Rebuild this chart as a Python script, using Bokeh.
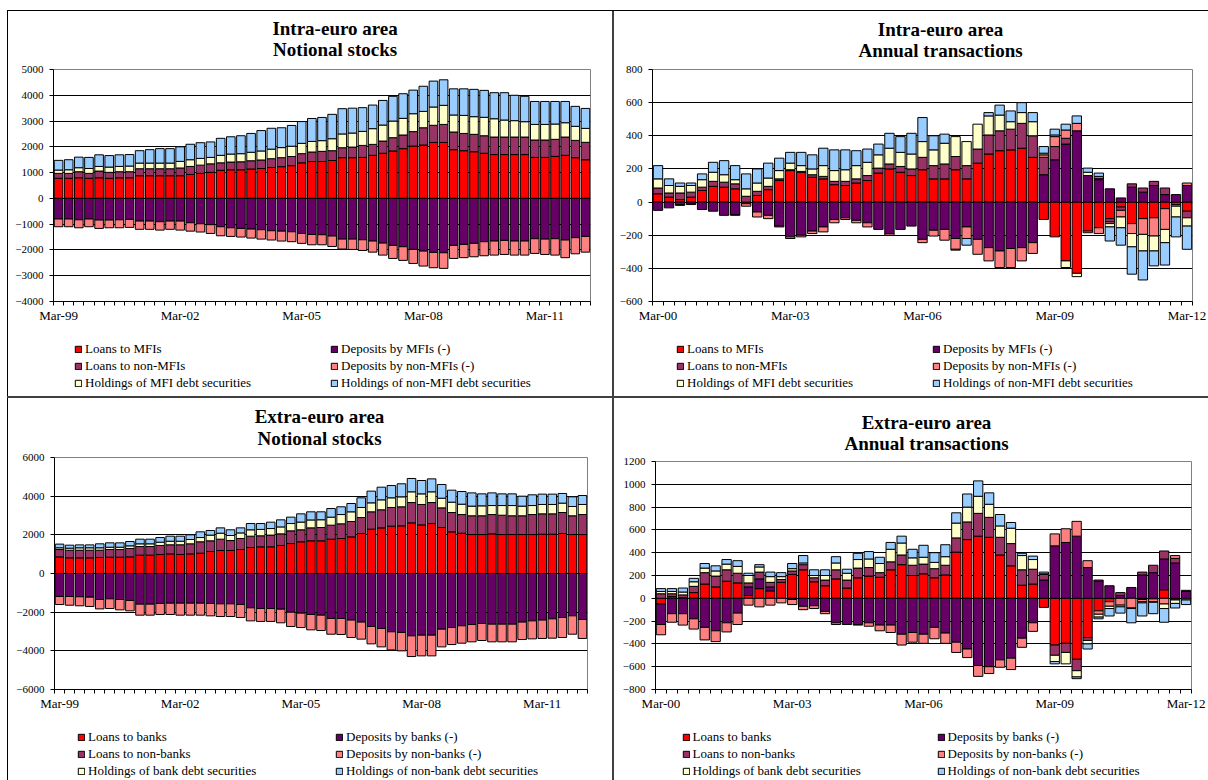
import numpy as np
from bokeh.plotting import figure
from bokeh.models import (ColumnDataSource, Range1d, FixedTicker, Legend, LegendItem, Spacer)
from bokeh.core.properties import value
from bokeh.layouts import row, column
from bokeh.embed import file_html
from bokeh.resources import INLINE

# ---------------- categories / tick labels ----------------
MONTHS = ["Mar", "Jun", "Sep", "Dec"]


def quarter_names(first_year, count):
    return [f"{MONTHS[k % 4]}-{(first_year + k // 4) % 100:02d}" for k in range(count)]


quarters_stocks = quarter_names(1999, 53)   # Mar-99 .. Mar-12
quarters_flows = quarter_names(2000, 49)    # Mar-00 .. Mar-12
ticks_stocks = ["Mar-99", "Mar-02", "Mar-05", "Mar-08", "Mar-11"]
ticks_flows = ["Mar-00", "Mar-03", "Mar-06", "Mar-09", "Mar-12"]

names_intra = ["Loans to MFIs", "Deposits by MFIs (-)", "Loans to non-MFIs",
               "Deposits by non-MFIs (-)", "Holdings of MFI debt securities",
               "Holdings of non-MFI debt securities"]
names_extra = ["Loans to banks", "Deposits by banks (-)", "Loans to non-banks",
               "Deposits by non-banks (-)", "Holdings of bank debt securities",
               "Holdings of non-bank debt securities"]

# ---------------- Intra-euro area, notional stocks ----------------
intra_stock_loans_mfi = [780, 780, 800, 780, 800, 780, 800, 800, 880, 880, 880, 880, 880, 930, 970, 1010,
                         1090, 1110, 1110, 1140, 1160, 1200, 1230, 1270, 1380, 1430, 1430, 1470, 1580, 1580,
                         1590, 1670, 1750, 1840, 1930, 2030, 2070, 2170, 2170, 1890, 1850, 1810, 1750, 1700,
                         1700, 1700, 1700, 1590, 1590, 1630, 1670, 1580, 1500]
intra_stock_dep_mfi = [-800, -800, -830, -800, -840, -840, -830, -815, -880, -880, -905, -880, -880, -945,
                       -985, -1020, -1100, -1140, -1165, -1190, -1215, -1255, -1270, -1295, -1360, -1400,
                       -1410, -1460, -1580, -1580, -1605, -1655, -1735, -1825, -1875, -1980, -2045, -2095,
                       -2110, -1825, -1785, -1745, -1680, -1655, -1630, -1655, -1655, -1565, -1580, -1565,
                       -1615, -1525, -1475]
intra_stock_loans_nonmfi = [190, 190, 235, 190, 260, 230, 235, 235, 270, 270, 270, 270, 300, 310, 320, 330,
                            290, 300, 310, 320, 330, 340, 350, 355, 355, 370, 395, 380, 385, 410, 465, 425,
                            475, 515, 530, 560, 670, 665, 700, 685, 670, 675, 680, 680, 680, 680, 680, 675,
                            675, 660, 710, 670, 675]
intra_stock_dep_nonmfi = [-300, -300, -310, -300, -325, -300, -310, -310, -320, -320, -325, -320, -350, -325,
                          -320, -340, -350, -335, -335, -350, -365, -360, -385, -385, -385, -400, -390, -405,
                          -385, -400, -415, -430, -465, -505, -530, -545, -580, -595, -605, -505, -515, -520,
                          -545, -545, -545, -545, -545, -570, -595, -635, -685, -625, -610]
intra_stock_mfi_sec = [130, 140, 155, 190, 180, 205, 205, 220, 220, 220, 220, 220, 255, 260, 260, 250, 290,
                       310, 315, 330, 350, 370, 390, 400, 400, 410, 415, 465, 535, 545, 545, 610, 620, 645,
                       645, 695, 635, 710, 740, 660, 700, 685, 715, 710, 660, 635, 595, 605, 605, 595, 555,
                       545, 540]
intra_stock_nonmfi_sec = [375, 390, 410, 430, 450, 445, 450, 445, 480, 520, 560, 560, 565, 600, 610, 600, 660,
                          670, 695, 730, 790, 810, 770, 805, 845, 890, 900, 945, 980, 965, 920, 915, 955, 960,
                          955, 915, 975, 1005, 990, 1015, 1030, 1060, 1045, 1010, 1060, 985, 985, 890, 890,
                          875, 825, 775, 775]

# ---------------- Intra-euro area, annual transactions ----------------
intra_flow_loans_mfi = [50, 30, 15, 30, 70, 95, 90, 80, -10, 40, 75, 130, 190, 180, 150, 140, 105, 100, 115,
                        130, 175, 200, 180, 160, 195, 140, 140, 195, 140, 235, 290, 310, 315, 325, 270, -105,
                        -210, -355, -430, -175, -155, -100, -30, -130, -100, -95, -40, -15, -55]
intra_flow_dep_mfi = [-50, -35, -15, -10, -45, -55, -80, -75, 0, -60, -80, -145, -210, -200, -175, -150, -105,
                      -95, -110, -125, -165, -190, -165, -145, -225, -170, -165, -220, -150, -225, -275, -295,
                      -280, -275, -245, 165, 255, 350, 430, 160, 135, 80, 25, 90, 60, 100, 45, 45, 100]
intra_flow_loans_nonmfi = [35, 25, 40, 30, 20, 30, 30, 30, 35, 25, 20, 10, 5, 5, 15, 15, 20, 25, 25, 30, 30, 30,
                           35, 40, 75, 80, 90, 80, 80, 85, 115, 120, 125, 150, 130, 105, 80, 35, 0, 0, 10, -20,
                           -20, 20, 25, 25, 40, 0, -40]
intra_flow_dep_nonmfi = [0, 0, -5, -5, 0, 0, 0, -5, -15, -30, -20, -5, -10, -10, -15, -30, -20, -10, -15, -25,
                         0, -10, 0, 0, -20, -35, -65, -65, -70, -90, -80, -100, -115, -80, -65, 15, 60, 50, 45,
                         -10, -35, -10, -40, -60, -95, -110, -125, -10, 15]
intra_flow_mfi_sec = [55, 45, 40, 40, 45, 55, 45, 25, 45, 50, 50, 50, 40, 35, 35, 65, 65, 70, 80, 80, 80, 95,
                      85, 90, 95, 95, 125, 120, 145, 150, 115, 95, 45, 65, 85, 10, 10, -40, -20, 20, 10, -20,
                      -65, -80, -100, -90, -80, -65, -50]
intra_flow_nonmfi_sec = [80, 40, 20, 15, 35, 60, 85, 85, 90, 85, 90, 75, 65, 80, 85, 105, 125, 120, 90, 80, 65,
                         90, 95, 125, 145, 85, 55, -5, -40, 0, 20, 60, 65, 60, 55, 40, 35, 35, 45, 25, 20, -85,
                         -105, -165, -175, -90, -135, -120, -140]

# ---------------- Extra-euro area, notional stocks ----------------
extra_stock_loans_banks = [860, 810, 810, 810, 830, 845, 845, 860, 950, 950, 985, 1015, 985, 1015, 1050, 1140,
                           1190, 1190, 1240, 1345, 1380, 1380, 1450, 1550, 1640, 1690, 1690, 1775, 1810, 1895,
                           2070, 2295, 2360, 2450, 2465, 2620, 2515, 2585, 2380, 2155, 2085, 2015, 2015, 2050,
                           2015, 2015, 2015, 2015, 2035, 2035, 2070, 2015, 2015]
extra_stock_dep_banks = [-1190, -1190, -1205, -1225, -1345, -1310, -1345, -1395, -1585, -1585, -1550, -1535,
                         -1535, -1535, -1535, -1550, -1570, -1570, -1605, -1775, -1810, -1810, -1845, -2000,
                         -2050, -2120, -2155, -2325, -2325, -2410, -2515, -2740, -2845, -3015, -3050, -3225,
                         -3190, -3190, -2880, -2795, -2705, -2640, -2585, -2620, -2620, -2620, -2515, -2450,
                         -2410, -2345, -2275, -2190, -2380]
extra_stock_loans_nonbanks = [380, 395, 395, 395, 375, 395, 395, 435, 445, 445, 465, 470, 500, 520, 590, 550,
                              585, 515, 570, 585, 570, 605, 600, 655, 620, 670, 690, 725, 760, 795, 825, 895,
                              935, 965, 985, 1050, 1055, 1085, 1015, 1000, 965, 970, 970, 1000, 1000, 970, 970,
                              1035, 1050, 1050, 1085, 970, 1035]
extra_stock_dep_nonbanks = [-415, -450, -465, -480, -485, -500, -535, -535, -570, -570, -570, -585, -620, -620,
                            -620, -640, -655, -655, -670, -675, -670, -670, -705, -740, -745, -795, -795, -815,
                            -830, -900, -880, -900, -950, -935, -950, -1070, -1070, -1070, -915, -880, -900,
                            -895, -880, -915, -915, -915, -900, -930, -950, -1000, -1035, -950, -980]
extra_stock_bank_sec = [90, 105, 125, 125, 125, 120, 120, 135, 140, 140, 170, 185, 185, 225, 220, 295, 310, 260,
                        290, 330, 330, 340, 360, 380, 400, 410, 400, 415, 480, 500, 520, 465, 515, 500, 515, 555,
                        550, 555, 500, 535, 535, 500, 515, 465, 500, 530, 500, 465, 485, 485, 485, 480, 520]
extra_stock_nonbank_sec = [190, 155, 150, 150, 205, 225, 225, 225, 240, 240, 240, 260, 260, 240, 295, 240, 275,
                           295, 260, 325, 305, 330, 365, 330, 425, 420, 410, 445, 400, 430, 500, 605, 655, 635,
                           675, 690, 690, 670, 710, 620, 655, 685, 620, 655, 605, 605, 515, 555, 535, 535, 500,
                           500, 465]

# ---------------- Extra-euro area, annual transactions ----------------
extra_flow_loans_banks = [-50, 15, 5, 50, 125, 100, 150, 135, 25, 85, 65, 140, 210, 250, 145, 110, 170, 90, 180,
                          195, 185, 250, 295, 200, 215, 180, 205, 405, 515, 545, 535, 380, 285, 115, 125, -80,
                          -410, -395, -535, -345, -110, -30, 0, 0, -10, -5, 75, -15, -5]
extra_flow_dep_banks = [-180, -135, -135, -180, -255, -285, -215, -130, 75, 85, 35, 0, -10, -70, -65, -115,
                        -215, -230, -230, -215, -235, -235, -315, -300, -315, -255, -305, -385, -445, -590, -600,
                        -540, -525, -350, -215, 160, 460, 490, 545, 270, 150, 110, 25, 95, 205, 225, 270, 310, 60]
extra_flow_loans_nonbanks = [40, 25, 25, 55, 100, 95, 100, 85, 35, 60, 40, 25, 30, 45, 35, 50, 80, 70, 85, 75,
                             40, 70, 85, 90, 85, 80, 85, 125, 155, 200, 175, 155, 195, 135, 130, 50, -90, -80,
                             -100, -25, 10, 0, 25, 0, 25, 65, 70, 40, 10]
extra_flow_dep_nonbanks = [-90, -75, -100, -90, -110, -95, -80, -100, -60, -75, -60, -40, -45, -30, -25, -20,
                           -15, 0, -5, -30, -50, -65, -95, -85, -80, -100, -90, -90, -75, -95, -60, -65, -100,
                           -80, -75, 0, 105, 120, 130, 60, -30, -40, -60, -85, -20, -25, -50, 25, 0]
extra_flow_bank_sec = [20, 20, 25, 40, 40, 45, 50, 60, 65, 45, 50, 25, 20, 15, 20, 40, 60, 60, 75, 75, 80, 110,
                       105, 65, 60, 55, 75, 130, 130, 150, 115, 100, 135, 125, 85, 5, -55, -100, -55, -30, -25,
                       -20, -15, -5, -10, -5, -40, -30, -10]
extra_flow_nonbank_sec = [25, 25, 35, 30, 40, 45, 40, 50, 20, 20, 40, 35, 45, 65, 50, 50, 55, 35, 55, 65, 55, 60,
                          60, 75, 105, 85, 105, 90, 115, 135, 100, 100, 50, 20, 30, 15, -20, 0, -15, -45, -15,
                          -65, -55, -125, -115, -100, -120, -40, -40]

COLORS = ["#FF0000", "#660066", "#993366", "#FF8080", "#FFFFCC", "#99CCFF"]
FONT = "Liberation Serif"
LEGEND_ORDER = [0, 2, 4, 1, 3, 5]   # column-major: left column then right column


def stack(series):
    n = len(series[0])
    pos = np.zeros(n)
    neg = np.zeros(n)
    out = []
    for vals in series:
        v = np.asarray(vals, dtype=float)
        bottom = np.where(v >= 0, pos, neg + v)
        top = np.where(v >= 0, pos + v, neg)
        pos = pos + np.where(v > 0, v, 0.0)
        neg = neg + np.where(v < 0, v, 0.0)
        out.append((v, bottom, top))
    return out


def blank_figure(width, height, xr):
    # frames of figures stacked in one column share the chart's left/right borders,
    # so the x range is expressed in page pixels between the chart frame edges
    f = figure(width=width, height=height, output_backend="svg", toolbar_location=None,
               x_range=Range1d(*xr), y_range=Range1d(height, 0),
               x_axis_type=None, y_axis_type=None,
               min_border=0, min_border_left=0, min_border_right=0,
               min_border_top=0, min_border_bottom=0)
    f.outline_line_color = None
    f.grid.visible = False
    return f


def title_panel(lines, width, height, xr, cx, ys):
    t = blank_figure(width, height, xr)
    src = ColumnDataSource(dict(x=[cx] * len(lines), y=list(ys), text=list(lines)))
    t.text(x="x", y="y", text="text", source=src, text_font=value(FONT),
           text_font_size=value("19px"), text_font_style="bold", text_color="black",
           text_align="center", text_baseline="middle")
    return t


def legend_panel(names, width, height, xr, legend_xy, row_h, label_w):
    f = blank_figure(width, height, xr)
    swatches = []
    for k in range(len(names)):
        # placeholder renderer (a single missing value): it only carries the swatch style
        swatches.append(f.vbar(x=[np.nan], top=[np.nan], bottom=[np.nan], width=0.85,
                               fill_color=COLORS[k], line_color="black", line_width=1))
    items = [LegendItem(label=names[k], renderers=[swatches[k]]) for k in LEGEND_ORDER]
    leg = Legend(items=items, ncols=2, orientation="vertical", location=legend_xy,
                 glyph_width=8, glyph_height=8, label_standoff=3, spacing=0,
                 label_height=row_h, label_width=label_w,
                 padding=0, margin=0, border_line_color=None, background_fill_alpha=0,
                 label_text_font=FONT, label_text_font_size="13px", label_text_color="black")
    f.add_layout(leg)
    return f


def chart_panel(quarters, tick_labels, series, yr, width, height, borders):
    n = len(quarters)
    ymin, ymax, ystep = yr
    left, right, top, bottom = borders
    p = figure(width=width, height=height, output_backend="svg", toolbar_location=None,
               x_range=Range1d(-0.5, n - 0.5), y_range=Range1d(ymin, ymax),
               min_border_left=left, min_border_right=right,
               min_border_top=top, min_border_bottom=bottom,
               background_fill_color="white", border_fill_color="white")
    p.outline_line_color = "#808080"
    p.outline_line_width = 1

    x = np.arange(n, dtype=float)
    for k, (v, b, t) in enumerate(stack(series)):
        m = v != 0
        src = ColumnDataSource(dict(x=x[m], bottom=b[m], top=t[m],
                                    quarter=[q for q, keep in zip(quarters, m) if keep]))
        p.vbar(x="x", bottom="bottom", top="top", width=0.85, source=src,
               fill_color=COLORS[k], line_color="black", line_width=1)

    label_pos = [float(quarters.index(lbl)) for lbl in tick_labels]
    xt = FixedTicker(ticks=label_pos, minor_ticks=list(np.arange(-0.5, n, 1.0)))
    xa = p.xaxis[0]
    xa.ticker = xt
    xa.major_label_overrides = {pos: lbl for pos, lbl in zip(label_pos, tick_labels)}
    xa.major_tick_out = 0
    xa.major_tick_in = 0
    xa.minor_tick_out = 4
    xa.minor_tick_in = 0
    xa.minor_tick_line_color = "black"
    xa.axis_line_color = "black"
    xa.major_label_text_font = FONT
    xa.major_label_text_font_size = "13px"
    xa.major_label_text_color = "black"
    xa.major_label_standoff = 2

    yt = FixedTicker(ticks=list(range(ymin, ymax + 1, ystep)), minor_ticks=[])
    ya = p.yaxis[0]
    ya.ticker = yt
    ya.major_tick_out = 4
    ya.major_tick_in = 0
    ya.major_tick_line_color = "black"
    ya.minor_tick_line_color = None
    ya.axis_line_color = "black"
    ya.major_label_text_font = FONT
    ya.major_label_text_font_size = "11px"
    ya.major_label_text_color = "black"
    ya.major_label_standoff = 6

    p.xgrid.visible = False
    p.ygrid.ticker = yt
    p.ygrid.grid_line_color = "black"
    p.ygrid.grid_line_width = 1
    return p


# ---- top-left (page x 8..612) ----
fr1 = (53, 590)
t1 = title_panel(["Intra-euro area", "Notional stocks"], 604, 50, fr1, 334.6, (16.7, 38.3))
c1 = chart_panel(quarters_stocks, ticks_stocks,
                 [intra_stock_loans_mfi, intra_stock_dep_mfi, intra_stock_loans_nonmfi,
                  intra_stock_dep_nonmfi, intra_stock_mfi_sec, intra_stock_nonmfi_sec],
                 (-4000, 5000, 1000), 604, 270, (45, 22, 8, 30))
l1 = legend_panel(names_intra, 604, 65, fr1, (21, 4.5), 17, 245)

# ---- top-right (page x 614..1208) ----
fr2 = (652, 1192)
t2 = title_panel(["Intra-euro area", "Annual transactions"], 594, 50, fr2, 940, (18.3, 39))
c2 = chart_panel(quarters_flows, ticks_flows,
                 [intra_flow_loans_mfi, intra_flow_dep_mfi, intra_flow_loans_nonmfi,
                  intra_flow_dep_nonmfi, intra_flow_mfi_sec, intra_flow_nonmfi_sec],
                 (-600, 800, 200), 594, 270, (38, 16, 8, 30))
l2 = legend_panel(names_intra, 594, 65, fr2, (24, 4.5), 17, 245)

# ---- bottom-left ----
fr3 = (54, 587)
t3 = title_panel(["Extra-euro area", "Notional stocks"], 604, 50, fr3, 319, (18, 40))
c3 = chart_panel(quarters_stocks, ticks_stocks,
                 [extra_stock_loans_banks, extra_stock_dep_banks, extra_stock_loans_nonbanks,
                  extra_stock_dep_nonbanks, extra_stock_bank_sec, extra_stock_nonbank_sec],
                 (-6000, 6000, 2000), 604, 270, (46, 25, 9, 29))
l3 = legend_panel(names_extra, 604, 62, fr3, (23, 0.5), 17, 247)

# ---- bottom-right ----
fr4 = (655, 1191)
t4 = title_panel(["Extra-euro area", "Annual transactions"], 594, 56, fr4, 926, (23.5, 45.3))
c4 = chart_panel(quarters_flows, ticks_flows,
                 [extra_flow_loans_banks, extra_flow_dep_banks, extra_flow_loans_nonbanks,
                  extra_flow_dep_nonbanks, extra_flow_bank_sec, extra_flow_nonbank_sec],
                 (-800, 1200, 200), 594, 264, (41, 17, 7, 29))
l4 = legend_panel(names_extra, 594, 62, fr4, (26.6, 0.5), 17, 244)


def line(w, h, color):
    return Spacer(width=w, height=h, styles={"background-color": color})


layout = column(
    Spacer(width=1208, height=10),
    row(Spacer(width=7, height=1), line(1201, 1, "#000000")),
    row(Spacer(width=7, height=385), line(1, 385, "#000000"), column(t1, c1, l1),
        line(2, 385, "#404040"), column(t2, c2, l2)),
    row(Spacer(width=7, height=2), line(1201, 2, "#404040")),
    row(Spacer(width=7, height=382), line(1, 382, "#000000"), column(t3, c3, l3),
        line(2, 382, "#404040"), column(t4, c4, l4)),
)

open("out.html", "w").write(file_html(layout, INLINE))
